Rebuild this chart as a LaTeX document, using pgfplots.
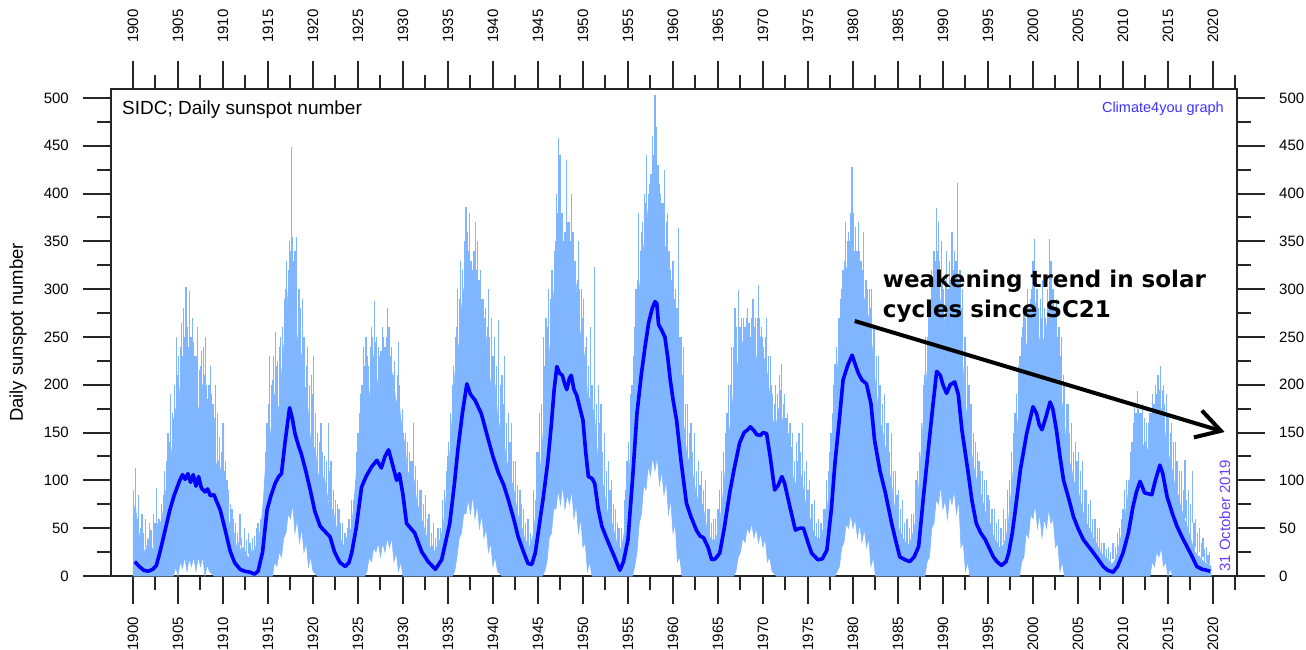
\documentclass[border=0pt]{standalone}
\usepackage{fontspec}
\setmainfont{Liberation Sans}
\newfontfamily\notefont{DejaVu Sans}
\usepackage{pgfplots}
\usepackage{pgfplotstable}
\pgfplotsset{compat=1.18}
\usetikzlibrary{arrows.meta}

\definecolor{lb}{RGB}{128,182,255}
\definecolor{mb}{RGB}{0,0,255}
\definecolor{c4y}{RGB}{60,50,255}
\definecolor{datec}{RGB}{110,60,255}

% tall daily spikes: x = year, t = top of spike
\pgfplotstableread[row sep=\\]{
x t\\
1900.1 90\\ 1900.3 113\\ 1900.6 85\\ 1901.0 65\\ 1901.4 60\\ 1901.8 55\\ 1902.3 65\\ 1902.6 92\\
1903.2 75\\ 1903.5 110\\ 1903.9 150\\ 1904.2 190\\ 1904.5 165\\ 1904.8 250\\ 1905.1 230\\ 1905.4 265\\
1905.6 280\\ 1905.9 302\\ 1906.1 250\\ 1906.3 298\\ 1906.6 270\\ 1906.9 230\\ 1907.2 260\\ 1907.5 220\\
1907.8 240\\ 1908.1 250\\ 1908.3 185\\ 1908.6 220\\ 1908.9 180\\ 1909.2 200\\ 1909.6 145\\ 1910.0 160\\
1910.3 120\\ 1910.6 90\\ 1911.0 70\\ 1911.4 55\\ 1911.9 65\\ 1912.4 50\\ 1912.8 45\\ 1913.3 40\\
1913.7 50\\ 1914.2 60\\
1914.6 100\\ 1914.9 160\\ 1915.2 230\\ 1915.5 205\\ 1915.8 255\\ 1916.1 225\\ 1916.4 250\\ 1916.8 290\\
1917.1 330\\ 1917.4 350\\ 1917.6 449\\ 1917.75 355\\ 1918.0 340\\ 1918.2 355\\ 1918.5 300\\ 1918.8 290\\
1919.1 250\\ 1919.4 240\\ 1919.8 210\\ 1920.1 230\\ 1920.5 150\\ 1920.9 160\\ 1921.3 125\\ 1921.7 160\\
1922.0 120\\ 1922.5 80\\ 1922.9 70\\ 1923.3 55\\ 1923.8 50\\
1924.3 80\\ 1924.7 100\\ 1925.0 150\\ 1925.3 190\\ 1925.6 240\\ 1925.9 250\\ 1926.2 220\\ 1926.5 260\\
1926.8 288\\ 1927.1 250\\ 1927.4 230\\ 1927.7 260\\ 1928.0 240\\ 1928.3 280\\ 1928.6 230\\ 1928.9 210\\
1929.2 180\\ 1929.5 245\\ 1929.8 160\\ 1930.1 150\\ 1930.5 140\\ 1930.9 120\\ 1931.2 160\\ 1931.6 100\\
1932.0 90\\ 1932.5 85\\ 1932.9 65\\ 1933.4 55\\ 1933.9 50\\
1934.4 80\\ 1934.8 110\\ 1935.1 140\\ 1935.5 200\\ 1935.8 250\\ 1936.1 300\\ 1936.4 330\\ 1936.8 350\\
1937.0 386\\ 1937.2 360\\ 1937.4 380\\ 1937.6 330\\ 1937.9 340\\ 1938.1 370\\ 1938.3 350\\ 1938.6 320\\
1938.9 290\\ 1939.2 280\\ 1939.5 300\\ 1939.8 270\\ 1940.2 250\\ 1940.6 268\\ 1941.0 210\\ 1941.3 230\\
1941.7 170\\ 1942.1 160\\ 1942.5 120\\ 1943.0 90\\ 1943.4 70\\ 1943.9 60\\
1944.5 90\\ 1944.9 130\\ 1945.2 170\\ 1945.6 250\\ 1945.9 270\\ 1946.2 300\\ 1946.5 320\\ 1946.8 340\\
1947.1 400\\ 1947.3 458\\ 1947.45 440\\ 1947.7 380\\ 1948.0 360\\ 1948.2 435\\ 1948.45 370\\ 1948.7 400\\
1948.9 360\\ 1949.2 330\\ 1949.5 350\\ 1949.8 300\\ 1950.1 290\\ 1950.4 250\\ 1950.8 260\\ 1951.3 323\\
1951.7 200\\ 1952.0 180\\ 1952.4 150\\ 1952.8 120\\ 1953.2 100\\ 1953.6 70\\ 1954.0 50\\
1954.6 80\\ 1954.9 120\\ 1955.3 190\\ 1955.6 230\\ 1955.9 300\\ 1956.2 380\\ 1956.5 360\\ 1956.8 400\\
1957.1 440\\ 1957.4 410\\ 1957.7 460\\ 1958.0 503\\ 1958.2 470\\ 1958.4 430\\ 1958.6 400\\ 1958.9 390\\
1959.1 425\\ 1959.4 380\\ 1959.7 320\\ 1960.0 330\\ 1960.3 300\\ 1960.6 364\\ 1960.9 250\\ 1961.2 240\\
1961.6 180\\ 1962.0 160\\ 1962.4 150\\ 1962.8 120\\ 1963.2 110\\ 1963.6 100\\ 1964.0 70\\ 1964.5 60\\
1965.0 70\\ 1965.4 110\\ 1965.8 150\\ 1966.2 200\\ 1966.5 240\\ 1966.9 280\\ 1967.3 299\\ 1967.6 270\\
1968.0 260\\ 1968.3 280\\ 1968.6 250\\ 1968.9 290\\ 1969.2 270\\ 1969.5 304\\ 1969.8 260\\ 1970.1 240\\
1970.4 270\\ 1970.8 230\\ 1971.1 190\\ 1971.4 200\\ 1971.8 210\\ 1972.1 222\\ 1972.4 190\\ 1972.7 170\\
1973.0 160\\ 1973.3 150\\ 1973.7 140\\ 1974.0 150\\ 1974.4 160\\ 1974.8 120\\ 1975.2 100\\ 1975.7 80\\
1976.2 60\\ 1976.7 70\\
1977.1 100\\ 1977.4 130\\ 1977.7 170\\ 1978.0 222\\ 1978.3 220\\ 1978.6 290\\ 1978.9 320\\ 1979.2 370\\
1979.5 360\\ 1979.7 380\\ 1979.9 428\\ 1980.1 380\\ 1980.3 365\\ 1980.6 370\\ 1980.9 330\\ 1981.2 360\\
1981.5 310\\ 1981.8 300\\ 1982.1 300\\ 1982.4 260\\ 1982.8 230\\ 1983.1 200\\ 1983.5 190\\ 1983.9 160\\
1984.3 150\\ 1984.7 110\\ 1985.1 90\\ 1985.5 80\\ 1986.0 60\\ 1986.5 65\\
1987.0 100\\ 1987.4 130\\ 1987.8 200\\ 1988.1 250\\ 1988.4 280\\ 1988.7 320\\ 1989.0 340\\ 1989.3 385\\
1989.5 370\\ 1989.8 350\\ 1990.1 300\\ 1990.4 340\\ 1990.7 330\\ 1991.0 360\\ 1991.3 340\\ 1991.6 411\\
1991.9 320\\ 1992.2 300\\ 1992.5 250\\ 1992.9 200\\ 1993.2 180\\ 1993.6 140\\ 1994.0 120\\ 1994.4 110\\
1994.8 100\\ 1995.2 80\\ 1995.7 70\\ 1996.2 60\\ 1996.7 70\\
1997.2 90\\ 1997.6 130\\ 1998.0 170\\ 1998.4 220\\ 1998.7 250\\ 1999.0 280\\ 1999.4 300\\ 1999.7 290\\
2000.0 330\\ 2000.2 353\\ 2000.5 300\\ 2000.8 290\\ 2001.1 310\\ 2001.4 270\\ 2001.8 353\\ 2002.0 330\\
2002.3 300\\ 2002.6 290\\ 2002.9 260\\ 2003.2 250\\ 2003.5 200\\ 2003.9 180\\ 2004.3 160\\ 2004.7 140\\
2005.1 130\\ 2005.5 120\\ 2005.9 90\\ 2006.4 80\\ 2006.9 60\\ 2007.4 50\\ 2007.9 35\\ 2008.4 30\\
2008.9 35\\ 2009.4 45\\
2009.8 60\\ 2010.2 90\\ 2010.6 100\\ 2011.0 140\\ 2011.3 180\\ 2011.6 194\\ 2011.9 170\\ 2012.2 180\\
2012.6 160\\ 2013.0 170\\ 2013.3 190\\ 2013.6 200\\ 2013.9 210\\ 2014.2 220\\ 2014.5 200\\ 2014.8 190\\
2015.1 170\\ 2015.4 160\\ 2015.8 140\\ 2016.1 120\\ 2016.5 110\\ 2016.9 121\\ 2017.3 90\\ 2017.7 110\\
2018.1 60\\ 2018.5 50\\ 2018.9 40\\ 2019.3 30\\ 2019.6 25\\
}\spikes

% lesser daily spikes between the tall ones
\pgfplotstableread[row sep=\\]{
x t\\
1900.2 70\\ 1900.45 60\\ 1900.8 50\\ 1901.2 45\\ 1901.6 40\\ 1902.0 48\\ 1902.45 55\\ 1902.9 60\\
1903.35 85\\ 1903.7 120\\ 1904.05 140\\ 1904.35 170\\ 1904.65 200\\ 1904.95 210\\ 1905.25 240\\ 1905.5 230\\
1905.75 250\\ 1906.0 260\\ 1906.2 240\\ 1906.45 250\\ 1906.75 245\\ 1907.05 230\\ 1907.35 215\\ 1907.65 235\\
1907.95 210\\ 1908.2 200\\ 1908.45 200\\ 1908.75 190\\ 1909.05 165\\ 1909.4 170\\ 1909.8 130\\ 1910.15 110\\
1910.45 100\\ 1910.8 75\\ 1911.2 60\\ 1911.65 45\\ 1912.1 40\\ 1912.6 38\\ 1913.0 35\\ 1913.5 42\\
1913.9 55\\ 1914.4 70\\
1914.75 130\\ 1915.05 180\\ 1915.35 200\\ 1915.65 230\\ 1915.95 220\\ 1916.25 240\\ 1916.6 260\\ 1916.95 300\\
1917.25 320\\ 1917.5 340\\ 1917.85 330\\ 1918.1 310\\ 1918.35 300\\ 1918.65 280\\ 1918.95 250\\ 1919.25 220\\
1919.6 200\\ 1919.95 190\\ 1920.3 170\\ 1920.7 140\\ 1921.1 130\\ 1921.5 120\\ 1921.85 110\\ 1922.25 90\\
1922.7 75\\ 1923.1 55\\ 1923.55 45\\
1924.0 60\\ 1924.5 80\\ 1924.85 130\\ 1925.15 170\\ 1925.45 200\\ 1925.75 220\\ 1926.05 230\\ 1926.35 240\\
1926.65 250\\ 1926.95 245\\ 1927.25 240\\ 1927.55 235\\ 1927.85 250\\ 1928.15 250\\ 1928.45 260\\ 1928.75 240\\
1929.05 225\\ 1929.35 210\\ 1929.65 200\\ 1929.95 175\\ 1930.3 150\\ 1930.7 130\\ 1931.05 120\\ 1931.4 115\\
1931.8 90\\ 1932.25 75\\ 1932.7 60\\ 1933.15 45\\ 1933.65 40\\ 1934.15 50\\
1934.6 90\\ 1934.95 125\\ 1935.3 170\\ 1935.65 220\\ 1935.95 260\\ 1936.25 290\\ 1936.6 320\\ 1936.9 340\\
1937.1 350\\ 1937.3 340\\ 1937.5 330\\ 1937.75 320\\ 1938.0 330\\ 1938.2 320\\ 1938.45 310\\ 1938.75 290\\
1939.05 270\\ 1939.35 260\\ 1939.65 250\\ 1940.0 230\\ 1940.4 220\\ 1940.8 200\\ 1941.15 180\\ 1941.5 160\\
1941.9 140\\ 1942.3 120\\ 1942.75 95\\ 1943.2 75\\ 1943.65 55\\ 1944.2 45\\
1944.7 80\\ 1945.05 130\\ 1945.4 180\\ 1945.75 220\\ 1946.05 260\\ 1946.35 290\\ 1946.65 320\\ 1946.95 350\\
1947.2 380\\ 1947.55 380\\ 1947.85 350\\ 1948.1 360\\ 1948.3 370\\ 1948.55 350\\ 1948.8 340\\ 1949.05 330\\
1949.35 310\\ 1949.65 300\\ 1949.95 270\\ 1950.25 240\\ 1950.6 220\\ 1951.0 200\\ 1951.5 180\\ 1951.85 160\\
1952.2 130\\ 1952.6 110\\ 1953.0 90\\ 1953.4 75\\ 1953.8 55\\ 1954.3 50\\
1954.75 90\\ 1955.1 140\\ 1955.45 200\\ 1955.75 260\\ 1956.05 310\\ 1956.35 340\\ 1956.65 370\\ 1956.95 390\\
1957.25 400\\ 1957.55 420\\ 1957.85 440\\ 1958.1 450\\ 1958.3 430\\ 1958.5 410\\ 1958.75 390\\ 1959.0 380\\
1959.25 370\\ 1959.55 340\\ 1959.85 310\\ 1960.15 290\\ 1960.45 280\\ 1960.75 250\\ 1961.05 210\\ 1961.4 180\\
1961.8 150\\ 1962.2 130\\ 1962.6 110\\ 1963.0 95\\ 1963.4 90\\ 1963.8 70\\ 1964.25 55\\
1964.75 60\\ 1965.2 90\\ 1965.6 130\\ 1966.0 170\\ 1966.35 200\\ 1966.7 240\\ 1967.1 260\\ 1967.45 260\\
1967.8 270\\ 1968.15 270\\ 1968.45 265\\ 1968.75 270\\ 1969.05 260\\ 1969.35 270\\ 1969.65 270\\ 1969.95 250\\
1970.25 250\\ 1970.6 230\\ 1970.95 200\\ 1971.25 180\\ 1971.6 190\\ 1971.95 195\\ 1972.25 180\\ 1972.55 165\\
1972.85 150\\ 1973.15 135\\ 1973.5 120\\ 1973.85 120\\ 1974.2 130\\ 1974.6 110\\ 1975.0 90\\ 1975.45 75\\
1975.95 55\\ 1976.45 55\\ 1976.9 70\\
1977.25 110\\ 1977.55 150\\ 1977.85 200\\ 1978.15 240\\ 1978.45 270\\ 1978.75 300\\ 1979.05 330\\ 1979.35 350\\
1979.6 350\\ 1979.8 360\\ 1980.0 350\\ 1980.2 340\\ 1980.45 340\\ 1980.75 340\\ 1981.05 320\\ 1981.35 310\\
1981.65 300\\ 1981.95 280\\ 1982.25 260\\ 1982.6 230\\ 1982.95 200\\ 1983.3 180\\ 1983.7 160\\ 1984.1 130\\
1984.5 110\\ 1984.9 85\\ 1985.3 70\\ 1985.75 55\\ 1986.25 50\\ 1986.75 65\\
1987.2 110\\ 1987.6 160\\ 1987.95 210\\ 1988.25 250\\ 1988.55 280\\ 1988.85 310\\ 1989.15 330\\ 1989.4 340\\
1989.65 330\\ 1989.95 310\\ 1990.25 310\\ 1990.55 300\\ 1990.85 310\\ 1991.15 320\\ 1991.45 330\\ 1991.75 310\\
1992.05 280\\ 1992.35 250\\ 1992.7 220\\ 1993.05 180\\ 1993.4 150\\ 1993.8 130\\ 1994.2 110\\ 1994.6 100\\
1995.0 85\\ 1995.45 70\\ 1995.95 55\\ 1996.45 50\\ 1996.95 60\\
1997.4 100\\ 1997.8 150\\ 1998.2 190\\ 1998.55 230\\ 1998.85 260\\ 1999.2 270\\ 1999.55 280\\ 1999.85 300\\
2000.1 310\\ 2000.35 300\\ 2000.65 280\\ 2000.95 270\\ 2001.25 280\\ 2001.6 300\\ 2001.9 310\\ 2002.15 300\\
2002.45 280\\ 2002.75 250\\ 2003.05 230\\ 2003.35 210\\ 2003.7 180\\ 2004.1 150\\ 2004.5 130\\ 2004.9 120\\
2005.3 110\\ 2005.7 90\\ 2006.15 75\\ 2006.65 60\\ 2007.15 50\\ 2007.65 35\\ 2008.15 28\\ 2008.65 25\\
2009.15 30\\ 2009.6 50\\
2010.0 70\\ 2010.4 100\\ 2010.8 130\\ 2011.15 160\\ 2011.45 170\\ 2011.75 175\\ 2012.05 170\\ 2012.4 165\\
2012.8 160\\ 2013.15 170\\ 2013.45 180\\ 2013.75 190\\ 2014.05 195\\ 2014.35 195\\ 2014.65 180\\ 2014.95 170\\
2015.25 150\\ 2015.6 140\\ 2015.95 120\\ 2016.3 110\\ 2016.7 90\\ 2017.1 80\\ 2017.5 75\\ 2017.9 55\\
2018.3 45\\ 2018.7 35\\ 2019.1 28\\ 2019.45 22\\
}\spikesb

\pgfplotsset{
  sunaxis/.style={
    scale only axis, width=1126pt, height=487pt,
    xmin=1897.56, xmax=2022.67, ymin=0, ymax=509.4,
    xtick={1900,1905,...,2020}, minor xtick={1902.5,1907.5,...,2022.5},
    ytick={0,50,...,500}, minor ytick={25,75,...,475},
    tick align=outside, major tick length=28pt, minor tick length=14pt,
    axis line style={line width=2pt, black!85},
    every tick/.style={line width=2pt, black!85},
    /pgf/number format/assume math mode=true,
    /pgf/number format/1000 sep={},
    ticklabel style={font=\fontsize{15}{18}\selectfont, inner sep=0pt},
  },
  spikestyle/.style={draw=none, no markers,
    error bars/.cd, y dir=minus, y explicit, error mark=none,
    error bar style={draw=lb, line width=1.2pt}},
}

\begin{document}
\begin{tikzpicture}
\begin{axis}[sunaxis,
    xticklabel style={rotate=90, anchor=east},
    xticklabel shift=13pt,
    yticklabel style={anchor=east},
    yticklabel shift=14pt,
    ylabel={Daily sunspot number},
    every axis y label/.style={at={(rel axis cs:0,0.5)}, xshift=-93pt, rotate=90, anchor=center, font=\fontsize{18.5}{22}\selectfont},
]
\coordinate (sw) at (rel axis cs:0,0);
\coordinate (ne) at (rel axis cs:1,1);

% band between daily lows and usual daily highs
\addplot[fill=lb, draw=lb, line width=0.6pt] coordinates {
(1900.0,60) (1900.25,75) (1900.5,55) (1900.75,40) (1901.0,35) (1901.25,25) (1901.5,30) (1901.75,38)
(1902.0,30) (1902.25,28) (1902.5,40) (1902.75,55) (1903.0,55) (1903.25,60) (1903.5,80) (1903.75,95)
(1904.0,130) (1904.25,125) (1904.5,150) (1904.75,175) (1905.0,170) (1905.25,200) (1905.5,200) (1905.75,225)
(1906.0,210) (1906.25,180) (1906.5,200) (1906.75,220) (1907.0,195) (1907.25,170) (1907.5,190) (1907.75,200)
(1908.0,170) (1908.25,150) (1908.5,160) (1908.75,170) (1909.0,150) (1909.25,115) (1909.5,120) (1909.75,110)
(1910.0,90) (1910.25,95) (1910.5,60) (1910.75,55) (1911.0,40) (1911.25,45) (1911.5,30) (1911.75,35)
(1912.0,25) (1912.25,30) (1912.5,25) (1912.75,20) (1913.0,20) (1913.25,28) (1913.5,25) (1913.75,35)
(1914.0,40) (1914.25,55) (1914.5,80) (1914.75,120) (1915.0,140) (1915.25,145) (1915.5,170) (1915.75,190)
(1916.0,180) (1916.25,175) (1916.5,210) (1916.75,240) (1917.0,260) (1917.25,300) (1917.5,290) (1917.75,310)
(1918.0,270) (1918.25,250) (1918.5,240) (1918.75,230) (1919.0,200) (1919.25,195) (1919.5,170) (1919.75,140)
(1920.0,130) (1920.25,135) (1920.5,110) (1920.75,100) (1921.0,95) (1921.25,105) (1921.5,90) (1921.75,75)
(1922.0,70) (1922.25,70) (1922.5,55) (1922.75,45) (1923.0,40) (1923.25,35) (1923.5,30) (1923.75,40)
(1924.0,45) (1924.25,50) (1924.5,70) (1924.75,100) (1925.0,130) (1925.25,145) (1925.5,170) (1925.75,195)
(1926.0,190) (1926.25,185) (1926.5,210) (1926.75,230) (1927.0,215) (1927.25,195) (1927.5,205) (1927.75,225)
(1928.0,220) (1928.25,200) (1928.5,225) (1928.75,215) (1929.0,200) (1929.25,180) (1929.5,190) (1929.75,165)
(1930.0,150) (1930.25,135) (1930.5,110) (1930.75,105) (1931.0,95) (1931.25,100) (1931.5,80) (1931.75,70)
(1932.0,60) (1932.25,55) (1932.5,45) (1932.75,38) (1933.0,30) (1933.25,32) (1933.5,25) (1933.75,30)
(1934.0,35) (1934.25,42) (1934.5,55) (1934.75,80) (1935.0,100) (1935.25,135) (1935.5,170) (1935.75,210)
(1936.0,230) (1936.25,245) (1936.5,280) (1936.75,300) (1937.0,310) (1937.25,330) (1937.5,300) (1937.75,280)
(1938.0,290) (1938.25,305) (1938.5,270) (1938.75,250) (1939.0,240) (1939.25,250) (1939.5,220) (1939.75,200)
(1940.0,190) (1940.25,200) (1940.5,170) (1940.75,155) (1941.0,150) (1941.25,140) (1941.5,120) (1941.75,115)
(1942.0,100) (1942.25,95) (1942.5,80) (1942.75,65) (1943.0,55) (1943.25,50) (1943.5,40) (1943.75,35)
(1944.0,30) (1944.25,35) (1944.5,45) (1944.75,65) (1945.0,90) (1945.25,110) (1945.5,140) (1945.75,175)
(1946.0,200) (1946.25,230) (1946.5,260) (1946.75,295) (1947.0,320) (1947.25,350) (1947.5,330) (1947.75,300)
(1948.0,310) (1948.25,340) (1948.5,320) (1948.75,290) (1949.0,300) (1949.25,305) (1949.5,270) (1949.75,250)
(1950.0,240) (1950.25,225) (1950.5,190) (1950.75,185) (1951.0,170) (1951.25,175) (1951.5,140) (1951.75,115)
(1952.0,100) (1952.25,95) (1952.5,80) (1952.75,65) (1953.0,60) (1953.25,55) (1953.5,45) (1953.75,35)
(1954.0,25) (1954.25,30) (1954.5,40) (1954.75,60) (1955.0,90) (1955.25,125) (1955.5,170) (1955.75,220)
(1956.0,260) (1956.25,300) (1956.5,320) (1956.75,345) (1957.0,360) (1957.25,385) (1957.5,390) (1957.75,410)
(1958.0,420) (1958.25,395) (1958.5,380) (1958.75,360) (1959.0,350) (1959.25,340) (1959.5,310) (1959.75,290)
(1960.0,270) (1960.25,265) (1960.5,240) (1960.75,200) (1961.0,170) (1961.25,155) (1961.5,130) (1961.75,120)
(1962.0,110) (1962.25,105) (1962.5,90) (1962.75,80) (1963.0,75) (1963.25,75) (1963.5,65) (1963.75,50)
(1964.0,40) (1964.25,40) (1964.5,35) (1964.75,40) (1965.0,45) (1965.25,60) (1965.5,80) (1965.75,105)
(1966.0,130) (1966.25,150) (1966.5,170) (1966.75,195) (1967.0,210) (1967.25,225) (1967.5,230) (1967.75,245)
(1968.0,240) (1968.25,225) (1968.5,240) (1968.75,250) (1969.0,235) (1969.25,225) (1969.5,240) (1969.75,250)
(1970.0,230) (1970.25,225) (1970.5,210) (1970.75,190) (1971.0,170) (1971.25,155) (1971.5,160) (1971.75,175)
(1972.0,170) (1972.25,160) (1972.5,150) (1972.75,135) (1973.0,120) (1973.25,110) (1973.5,95) (1973.75,100)
(1974.0,100) (1974.25,105) (1974.5,90) (1974.75,75) (1975.0,65) (1975.25,60) (1975.5,50) (1975.75,42)
(1976.0,40) (1976.25,38) (1976.5,45) (1976.75,50) (1977.0,60) (1977.25,80) (1977.5,110) (1977.75,145)
(1978.0,180) (1978.25,210) (1978.5,250) (1978.75,280) (1979.0,300) (1979.25,320) (1979.5,330) (1979.75,345)
(1980.0,320) (1980.25,300) (1980.5,310) (1980.75,325) (1981.0,300) (1981.25,290) (1981.5,280) (1981.75,270)
(1982.0,250) (1982.25,230) (1982.5,200) (1982.75,180) (1983.0,160) (1983.25,155) (1983.5,140) (1983.75,125)
(1984.0,110) (1984.25,100) (1984.5,80) (1984.75,65) (1985.0,50) (1985.25,48) (1985.5,40) (1985.75,36)
(1986.0,35) (1986.25,32) (1986.5,40) (1986.75,48) (1987.0,60) (1987.25,85) (1987.5,120) (1987.75,155)
(1988.0,190) (1988.25,215) (1988.5,240) (1988.75,270) (1989.0,290) (1989.25,310) (1989.5,300) (1989.75,285)
(1990.0,280) (1990.25,260) (1990.5,270) (1990.75,285) (1991.0,290) (1991.25,305) (1991.5,300) (1991.75,270)
(1992.0,240) (1992.25,215) (1992.5,180) (1992.75,160) (1993.0,140) (1993.25,125) (1993.5,110) (1993.75,100)
(1994.0,90) (1994.25,85) (1994.5,75) (1994.75,65) (1995.0,60) (1995.25,55) (1995.5,45) (1995.75,38)
(1996.0,35) (1996.25,30) (1996.5,30) (1996.75,33) (1997.0,40) (1997.25,55) (1997.5,80) (1997.75,105)
(1998.0,130) (1998.25,155) (1998.5,180) (1998.75,205) (1999.0,220) (1999.25,240) (1999.5,250) (1999.75,265)
(2000.0,270) (2000.25,285) (2000.5,260) (2000.75,245) (2001.0,240) (2001.25,250) (2001.5,260) (2001.75,280)
(2002.0,270) (2002.25,255) (2002.5,240) (2002.75,210) (2003.0,190) (2003.25,180) (2003.5,160) (2003.75,135)
(2004.0,120) (2004.25,115) (2004.5,100) (2004.75,95) (2005.0,90) (2005.25,80) (2005.5,70) (2005.75,60)
(2006.0,55) (2006.25,50) (2006.5,45) (2006.75,38) (2007.0,35) (2007.25,30) (2007.5,25) (2007.75,22)
(2008.0,20) (2008.25,18) (2008.5,15) (2008.75,12) (2009.0,15) (2009.25,20) (2009.5,30) (2009.75,40)
(2010.0,50) (2010.25,65) (2010.5,80) (2010.75,100) (2011.0,120) (2011.25,130) (2011.5,140) (2011.75,155)
(2012.0,150) (2012.25,135) (2012.5,140) (2012.75,130) (2013.0,140) (2013.25,150) (2013.5,160) (2013.75,165)
(2014.0,170) (2014.25,175) (2014.5,160) (2014.75,145) (2015.0,130) (2015.25,120) (2015.5,110) (2015.75,95)
(2016.0,90) (2016.25,80) (2016.5,70) (2016.75,62) (2017.0,55) (2017.25,48) (2017.5,40) (2017.75,32)
(2018.0,25) (2018.25,22) (2018.5,20) (2018.75,17) (2019.0,15) (2019.25,13) (2019.5,12) (2019.8,10)
(2019.8,0) (2015.5,0) (2015.25,8) (2015.0,0) (2014.75,15) (2014.5,10) (2014.25,30) (2014.0,20)
(2013.75,25) (2013.5,10) (2013.25,15) (2013.0,0) (2003.5,0) (2003.25,15) (2003.0,5) (2002.75,35)
(2002.5,30) (2002.25,60) (2002.0,55) (2001.75,70) (2001.5,50) (2001.25,60) (2001.0,40) (2000.75,65)
(2000.5,50) (2000.25,75) (2000.0,60) (1999.75,65) (1999.5,40) (1999.25,45) (1999.0,20) (1998.75,15)
(1998.5,0) (1993.0,0) (1992.75,15) (1992.5,5) (1992.25,35) (1992.0,30) (1991.75,80) (1991.5,65)
(1991.25,90) (1991.0,75) (1990.75,85) (1990.5,60) (1990.25,80) (1990.0,70) (1989.75,95) (1989.5,75)
(1989.25,80) (1989.0,55) (1988.75,50) (1988.5,20) (1988.25,15) (1988.0,0) (1982.5,0) (1982.25,20)
(1982.0,10) (1981.75,40) (1981.5,30) (1981.25,50) (1981.0,35) (1980.75,55) (1980.5,40) (1980.25,60)
(1980.0,50) (1979.75,65) (1979.5,50) (1979.25,55) (1979.0,35) (1978.75,30) (1978.5,10) (1978.25,5)
(1978.0,0) (1971.5,0) (1971.0,5) (1970.75,20) (1970.5,15) (1970.25,40) (1970.0,30) (1969.75,45)
(1969.5,35) (1969.25,50) (1969.0,40) (1968.75,55) (1968.5,45) (1968.25,50) (1968.0,35) (1967.75,40)
(1967.5,25) (1967.25,20) (1967.0,5) (1966.75,0) (1961.0,0) (1960.75,20) (1960.5,15) (1960.25,55)
(1960.0,45) (1959.75,80) (1959.5,65) (1959.25,100) (1959.0,85) (1958.75,110) (1958.5,95) (1958.25,125)
(1958.0,110) (1957.75,125) (1957.5,105) (1957.25,115) (1957.0,90) (1956.75,95) (1956.5,65) (1956.25,55)
(1956.0,25) (1955.75,10) (1955.5,0) (1951.0,0) (1950.75,15) (1950.5,5) (1950.25,35) (1950.0,30)
(1949.75,60) (1949.5,45) (1949.25,75) (1949.0,60) (1948.75,90) (1948.5,75) (1948.25,85) (1948.0,70)
(1947.75,95) (1947.5,75) (1947.25,90) (1947.0,70) (1946.75,70) (1946.5,45) (1946.25,40) (1946.0,15)
(1945.75,5) (1945.5,0) (1941.0,0) (1940.5,5) (1940.25,20) (1940.0,10) (1939.75,35) (1939.5,25)
(1939.25,50) (1939.0,40) (1938.75,65) (1938.5,50) (1938.25,75) (1938.0,60) (1937.75,85) (1937.5,65)
(1937.25,80) (1937.0,65) (1936.75,65) (1936.5,45) (1936.25,40) (1936.0,20) (1935.75,5) (1935.5,0)
(1930.0,0) (1929.75,15) (1929.5,5) (1929.25,25) (1929.0,15) (1928.75,40) (1928.5,30) (1928.25,40)
(1928.0,25) (1927.75,35) (1927.5,20) (1927.25,35) (1927.0,25) (1926.75,30) (1926.5,15) (1926.25,20)
(1926.0,5) (1925.75,0) (1920.5,0) (1920.0,5) (1919.75,20) (1919.5,10) (1919.25,35) (1919.0,25)
(1918.75,50) (1918.5,35) (1918.25,60) (1918.0,45) (1917.75,75) (1917.5,60) (1917.25,65) (1917.0,45)
(1916.75,40) (1916.5,20) (1916.25,25) (1916.0,10) (1915.75,15) (1915.5,0) (1909.0,0) (1908.5,5)
(1908.25,12) (1908.0,0) (1907.75,20) (1907.5,10) (1907.25,20) (1907.0,5) (1906.75,20) (1906.5,10)
(1906.25,18) (1906.0,5) (1905.75,20) (1905.5,8) (1905.25,15) (1905.0,0) (1904.75,10) (1904.5,0)
(1900.0,0)
};

% single-day spikes
\addplot[spikestyle] table[x=x, y=t, y error expr=0.5*\thisrow{t}] {\spikesb};
\addplot[spikestyle] table[x=x, y=t, y error expr=0.5*\thisrow{t}] {\spikes};

% running mean
\addplot[color=mb, line width=3.6pt, line join=round] coordinates {
(1900.2,15) (1900.7,10) (1901.2,6) (1901.7,5) (1902.2,7) (1902.6,11) (1903.0,25) (1903.5,45)
(1904.1,69) (1904.6,85) (1905.2,100) (1905.5,106) (1905.8,101) (1906.1,107) (1906.4,98) (1906.7,106)
(1907.0,94) (1907.3,104) (1907.6,92) (1908.0,88) (1908.3,91) (1908.6,84) (1909.0,85) (1909.3,78)
(1909.7,69) (1910.2,50) (1910.8,26) (1911.3,14) (1911.9,7) (1912.4,5) (1913.0,4) (1913.5,2)
(1913.9,5) (1914.4,25) (1914.9,69) (1915.3,83) (1915.8,97) (1916.2,104) (1916.5,107) (1916.9,140)
(1917.4,176) (1917.7,165) (1918.0,149) (1918.4,136) (1918.7,128) (1919.2,110) (1919.7,90) (1920.2,68)
(1920.8,52) (1921.3,47) (1921.9,41) (1922.4,25) (1923.0,14) (1923.6,10) (1924.0,14) (1924.3,24)
(1924.8,50) (1925.4,93) (1925.9,104) (1926.5,114) (1927.1,121) (1927.6,113) (1928.0,125) (1928.4,132)
(1928.8,118) (1929.3,100) (1929.6,107) (1930.0,85) (1930.4,55) (1931.3,45) (1932.1,25) (1932.8,15)
(1933.6,7) (1934.3,17) (1935.2,55) (1935.7,95) (1936.1,132) (1936.6,170) (1937.1,201) (1937.5,190)
(1938.0,184) (1938.7,170) (1939.5,142) (1940.0,125) (1940.6,108) (1941.2,95) (1941.7,80) (1942.3,60)
(1942.8,41) (1943.4,25) (1943.9,13) (1944.3,12) (1944.7,24) (1945.1,50) (1945.6,83) (1946.1,120)
(1946.5,160) (1946.8,195) (1947.1,219) (1947.4,212) (1947.7,210) (1948.0,200) (1948.2,195) (1948.5,207)
(1948.7,210) (1949.0,195) (1949.3,189) (1950.0,163) (1950.3,130) (1950.6,104) (1951.0,102) (1951.3,97)
(1951.7,70) (1952.1,52) (1952.6,40) (1953.0,31) (1953.5,20) (1954.1,6) (1954.5,15) (1955.0,38)
(1955.5,100) (1956.0,170) (1956.5,212) (1956.9,240) (1957.3,265) (1957.7,280) (1958.0,287) (1958.2,285)
(1958.4,263) (1958.7,258) (1959.1,250) (1959.4,230) (1959.7,205) (1960.0,185) (1960.4,163) (1960.9,120)
(1961.5,76) (1962.0,62) (1962.6,48) (1963.0,42) (1963.4,40) (1963.9,30) (1964.3,17) (1964.7,18)
(1965.2,24) (1965.7,50) (1966.3,87) (1966.8,112) (1967.4,139) (1967.9,150) (1968.3,153) (1968.6,156)
(1969.0,152) (1969.3,148) (1969.7,147) (1970.0,150) (1970.4,149) (1970.8,125) (1971.3,90) (1971.7,95)
(1972.1,104) (1972.4,97) (1973.0,72) (1973.6,48) (1974.1,50) (1974.5,50) (1975.0,35) (1975.4,24)
(1976.1,17) (1976.6,18) (1977.1,27) (1977.6,70) (1978.0,118) (1978.5,165) (1978.9,205) (1979.4,220)
(1979.9,231) (1980.3,220) (1980.6,212) (1981.0,205) (1981.5,201) (1982.0,180) (1982.4,142) (1983.0,110)
(1983.6,87) (1984.3,55) (1984.8,35) (1985.2,20) (1985.8,17) (1986.3,15) (1986.8,20) (1987.3,31)
(1987.8,80) (1988.4,135) (1988.9,180) (1989.3,214) (1989.7,210) (1990.0,200) (1990.4,191) (1990.8,200)
(1991.3,203) (1991.7,190) (1992.1,153) (1992.8,108) (1993.2,80) (1993.7,55) (1994.2,45) (1994.7,38)
(1995.2,28) (1995.6,20) (1996.0,15) (1996.5,11) (1997.0,15) (1997.3,24) (1997.7,45) (1998.0,66)
(1998.6,111) (1999.3,149) (1999.7,165) (2000.0,177) (2000.4,170) (2000.7,158) (2001.0,153) (2001.4,165)
(2001.9,182) (2002.2,175) (2002.6,153) (2003.0,125) (2003.4,100) (2004.0,80) (2004.5,62) (2005.0,50)
(2005.6,38) (2006.0,33) (2006.5,27) (2007.2,18) (2007.8,10) (2008.3,6) (2008.9,4) (2009.4,10)
(2010.0,24) (2010.6,45) (2011.1,72) (2011.5,88) (2011.9,99) (2012.2,92) (2012.4,87) (2013.2,85)
(2013.6,100) (2014.1,116) (2014.4,108) (2014.9,83) (2015.5,65) (2016.0,52) (2016.6,40) (2017.1,31)
(2017.7,20) (2018.2,10) (2018.8,7) (2019.3,6) (2019.7,5)
};

\node[anchor=base west, inner sep=0pt, font=\fontsize{19}{22}\selectfont] at (axis cs:1898.78,482.2) {SIDC; Daily sunspot number};
\node[anchor=base east, inner sep=0pt, text=c4y, font=\fontsize{14.5}{17}\selectfont] at (axis cs:2021.22,484.6) {Climate4you graph};
\node[anchor=base west, rotate=90, inner sep=0pt, text=datec, font=\fontsize{15}{18}\selectfont] at (axis cs:2021.9,4.2) {31 October 2019};
\draw[line width=4pt, -{Straight Barb[length=24pt, width=28pt, line width=4pt]}] (axis cs:1980.2,266.7) -- (axis cs:2021.3,150.6);
\node[anchor=base west, inner sep=0pt, font=\notefont\bfseries\fontsize{23}{27}\selectfont] at (axis cs:1983.3,301.3) {weakening trend in solar};
\node[anchor=base west, inner sep=0pt, font=\notefont\bfseries\fontsize{23}{27}\selectfont] at (axis cs:1983.3,269.9) {cycles since SC21};
\end{axis}

\begin{axis}[sunaxis,
    axis line style={draw=none},
    every tick/.style={draw=none},
    xticklabel pos=upper, yticklabel pos=right,
    xticklabel style={rotate=90, anchor=west},
    xticklabel shift=18pt,
    yticklabel style={anchor=west},
    yticklabel shift=14pt,
]
\end{axis}
\pgfresetboundingbox
\path[use as bounding box] ([shift={(-111pt,-73pt)}]sw) rectangle ([shift={(69pt,89pt)}]ne);
\end{tikzpicture}
\end{document}
